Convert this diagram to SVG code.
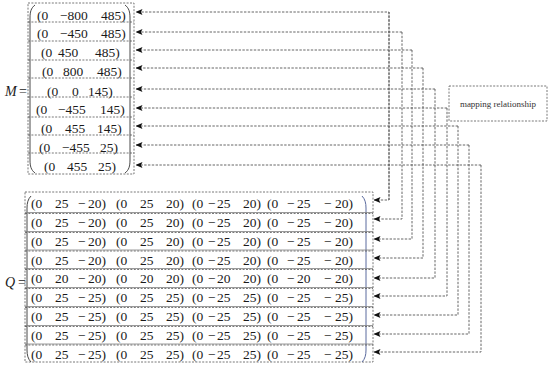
<svg xmlns="http://www.w3.org/2000/svg" xmlns:xlink="http://www.w3.org/1999/xlink" width="550" height="366" viewBox="0 0 550 366">
<style>
  .t { font-family: "Liberation Serif", "Times New Roman", serif; font-size: 13.5px; fill: #1a1a1a; }
  .lbl { font-family: "Liberation Serif", "Times New Roman", serif; font-size: 14px; fill: #1a1a1a; font-style: italic; }
  .eq { font-family: "Liberation Serif", "Times New Roman", serif; font-size: 14px; fill: #1a1a1a; }
  .small { font-family: "Liberation Serif", "Times New Roman", serif; font-size: 9px; fill: #333; }
  .dash { fill: none; stroke: #555; stroke-width: 0.8; stroke-dasharray: 2 1.4; }
  .solid { fill: none; stroke: #808080; stroke-width: 0.8; }
  .brk { fill: none; stroke: #333; stroke-width: 0.9; }
  .brkb { fill: none; stroke: #5a6a9e; stroke-width: 1; }
  .conn { fill: none; stroke: #555; stroke-width: 0.9; stroke-dasharray: 2.4 1.4; marker-end: url(#arr); }
</style>
<defs>
  <marker id="arr" markerUnits="userSpaceOnUse" markerWidth="7" markerHeight="6" refX="6.5" refY="3" orient="auto">
    <path d="M0,0 L7,3 L0,6 L1.5,3 Z" fill="#111"/>
  </marker>
  <text id="rowA" class="t"><tspan x="31">(0</tspan><tspan x="55">25</tspan><tspan x="78">−</tspan><tspan x="88">20)</tspan><tspan x="116">(0</tspan><tspan x="140">25</tspan><tspan x="166">20)</tspan><tspan x="192">(0</tspan><tspan x="208">−</tspan><tspan x="217">25</tspan><tspan x="243">20)</tspan><tspan x="267">(0</tspan><tspan x="287">−</tspan><tspan x="297">25</tspan><tspan x="324">−</tspan><tspan x="335">20)</tspan></text>
  <text id="rowB" class="t"><tspan x="31">(0</tspan><tspan x="55">20</tspan><tspan x="78">−</tspan><tspan x="88">20)</tspan><tspan x="116">(0</tspan><tspan x="140">20</tspan><tspan x="166">20)</tspan><tspan x="192">(0</tspan><tspan x="208">−</tspan><tspan x="217">20</tspan><tspan x="243">20)</tspan><tspan x="267">(0</tspan><tspan x="287">−</tspan><tspan x="297">20</tspan><tspan x="324">−</tspan><tspan x="335">20)</tspan></text>
  <text id="rowC" class="t"><tspan x="31">(0</tspan><tspan x="55">25</tspan><tspan x="78">−</tspan><tspan x="88">25)</tspan><tspan x="116">(0</tspan><tspan x="140">25</tspan><tspan x="166">25)</tspan><tspan x="192">(0</tspan><tspan x="208">−</tspan><tspan x="217">25</tspan><tspan x="243">25)</tspan><tspan x="267">(0</tspan><tspan x="287">−</tspan><tspan x="297">25</tspan><tspan x="324">−</tspan><tspan x="335">25)</tspan></text>
</defs>

<!-- Matrix M -->
<g id="matrix-M">
  <text class="lbl" x="5" y="95.5">M</text>
  <text class="eq" x="19" y="95.5">=</text>
  <rect class="dash" x="28" y="3" width="106" height="171"/>
  <path class="brk" d="M35,5 C31,8 30,12 30,18 V160 C30,166 31,170 35,173"/>
  <path class="brk" d="M125,5 C129,8 130,12 130,18 V160 C130,166 129,170 125,173"/>
  <g id="m1"><line class="dash" x1="28" y1="22" x2="134" y2="22"/><text class="t" y="19.5"><tspan x="37">(0</tspan><tspan x="60">−800</tspan><tspan x="101">485)</tspan></text></g>
  <g id="m2"><line class="dash" x1="28" y1="41" x2="134" y2="41"/><text class="t" y="37.5"><tspan x="37">(0</tspan><tspan x="60">−450</tspan><tspan x="101">485)</tspan></text></g>
  <g id="m3"><line class="dash" x1="28" y1="60" x2="134" y2="60"/><text class="t" y="56.5"><tspan x="41">(0</tspan><tspan x="58">450</tspan><tspan x="95">485)</tspan></text></g>
  <g id="m4"><line class="dash" x1="28" y1="78" x2="134" y2="78"/><text class="t" y="76"><tspan x="42">(0</tspan><tspan x="63">800</tspan><tspan x="97">485)</tspan></text></g>
  <g id="m5"><line class="dash" x1="28" y1="97" x2="134" y2="97"/><text class="t" y="95.5"><tspan x="47">(0</tspan><tspan x="72">0</tspan><tspan x="88">145)</tspan></text></g>
  <g id="m6"><line class="dash" x1="28" y1="117" x2="134" y2="117"/><text class="t" y="113.5"><tspan x="36">(0</tspan><tspan x="58">−455</tspan><tspan x="100">145)</tspan></text></g>
  <g id="m7"><line class="dash" x1="28" y1="135" x2="134" y2="135"/><text class="t" y="132.5"><tspan x="41">(0</tspan><tspan x="65">455</tspan><tspan x="97">145)</tspan></text></g>
  <g id="m8"><line class="dash" x1="28" y1="153" x2="134" y2="153"/><text class="t" y="151.5"><tspan x="39">(0</tspan><tspan x="62">−455</tspan><tspan x="100">25)</tspan></text></g>
  <g id="m9"><text class="t" y="171"><tspan x="44">(0</tspan><tspan x="67">455</tspan><tspan x="98">25)</tspan></text></g>
</g>

<!-- Matrix Q -->
<g id="matrix-Q">
  <text class="lbl" x="5" y="286.5">Q</text>
  <text class="eq" x="18" y="286.5">=</text>
  <rect class="dash" x="25" y="192" width="348" height="170"/>
  <path class="brk" d="M31,196 C28,199 27,203 27,208 V350 C27,355 28,359 31,362"/>
  <path class="brkb" d="M362,196 C365,199 366,203 366,208 V350 C366,355 365,359 362,362"/>
  <g id="q1"><line class="solid" x1="25" y1="212.5" x2="373" y2="212.5"/><line class="dash" x1="25" y1="213.5" x2="373" y2="213.5"/><use xlink:href="#rowA" href="#rowA" y="207.5"/></g>
  <g id="q2"><line class="solid" x1="25" y1="231.5" x2="373" y2="231.5"/><line class="dash" x1="25" y1="232.5" x2="373" y2="232.5"/><use xlink:href="#rowA" href="#rowA" y="226.5"/></g>
  <g id="q3"><line class="solid" x1="25" y1="250" x2="373" y2="250"/><line class="dash" x1="25" y1="251" x2="373" y2="251"/><use xlink:href="#rowA" href="#rowA" y="245.5"/></g>
  <g id="q4"><line class="solid" x1="25" y1="268.5" x2="373" y2="268.5"/><line class="dash" x1="25" y1="269.5" x2="373" y2="269.5"/><use xlink:href="#rowA" href="#rowA" y="264.5"/></g>
  <g id="q5"><line class="solid" x1="25" y1="287.5" x2="373" y2="287.5"/><line class="dash" x1="25" y1="288.5" x2="373" y2="288.5"/><use xlink:href="#rowB" href="#rowB" y="283"/></g>
  <g id="q6"><line class="solid" x1="25" y1="306.5" x2="373" y2="306.5"/><line class="dash" x1="25" y1="307.5" x2="373" y2="307.5"/><use xlink:href="#rowC" href="#rowC" y="302"/></g>
  <g id="q7"><line class="solid" x1="25" y1="325.5" x2="373" y2="325.5"/><line class="dash" x1="25" y1="326.5" x2="373" y2="326.5"/><use xlink:href="#rowC" href="#rowC" y="321"/></g>
  <g id="q8"><line class="solid" x1="25" y1="344" x2="373" y2="344"/><line class="dash" x1="25" y1="345" x2="373" y2="345"/><use xlink:href="#rowC" href="#rowC" y="339.5"/></g>
  <g id="q9"><use xlink:href="#rowC" href="#rowC" y="358.5"/></g>
</g>

<!-- Mapping relationship box -->
<g id="mapping">
  <rect class="dash" x="449" y="86" width="98" height="35"/>
  <text class="small" x="498" y="106.5" text-anchor="middle">mapping relationship</text>
</g>

<!-- Connectors -->
<g id="connectors">
  <path class="conn" d="M389,200 V12 H136"/>
  <path class="conn" d="M389,12 V200 H374"/>
  <path class="conn" d="M402,32 H136"/>
  <path class="conn" d="M402,32 V219 H374"/>
  <path class="conn" d="M412,50 H136"/>
  <path class="conn" d="M412,50 V239 H374"/>
  <path class="conn" d="M423,68 H136"/>
  <path class="conn" d="M423,68 V258 H374"/>
  <path class="conn" d="M435,89 H136"/>
  <path class="conn" d="M435,89 V278 H374"/>
  <path class="conn" d="M447,108 H136"/>
  <path class="conn" d="M447,108 V296 H374"/>
  <path class="conn" d="M458,126 H136"/>
  <path class="conn" d="M458,126 V315 H374"/>
  <path class="conn" d="M469,145 H136"/>
  <path class="conn" d="M469,145 V334 H374"/>
  <path class="conn" d="M481,165 H136"/>
  <path class="conn" d="M481,165 V352 H374"/>
</g>
</svg>
